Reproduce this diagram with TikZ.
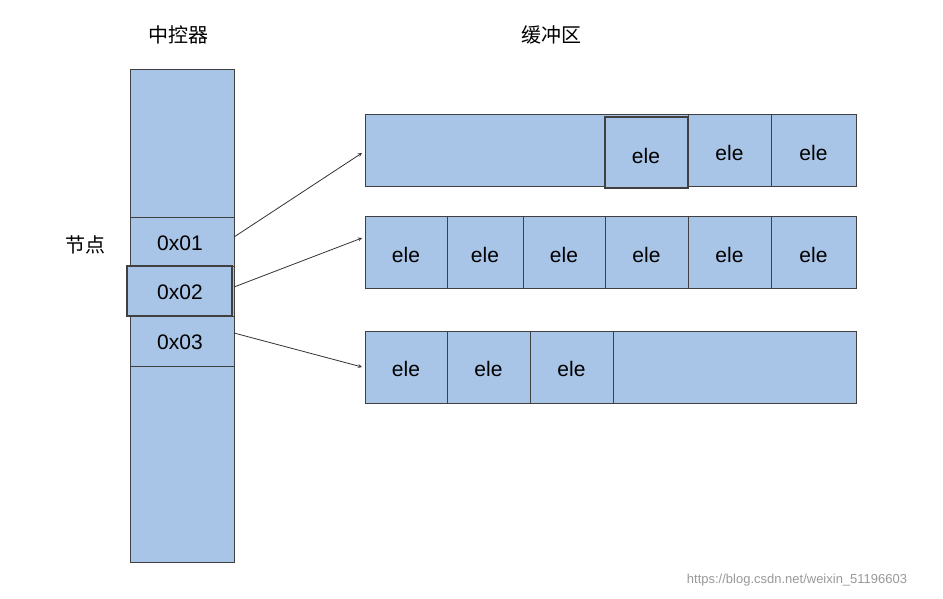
\documentclass[tikz,border=0pt]{standalone}
\usepackage{fontspec}
\setmainfont{Liberation Sans}
\newfontfamily\cjk{Noto Sans CJK SC}
\begin{document}
\begin{tikzpicture}[x=1pt,y=-1pt,
  cell/.style={draw=black!80,fill=blue!30!cyan!20!white,line width=1pt},
  lbl/.style={font=\fontsize{21}{21}\selectfont},
  arr/.style={->,>=stealth,line width=0.8pt,black!80}]
\definecolor{cellc}{HTML}{A8C4E6}
\tikzset{cell/.style={draw=black!75,fill=cellc,line width=1pt}}
\useasboundingbox (0,0) rectangle (943,599);
\fill[white] (0,0) rectangle (943,599);
% column
\draw[cell] (130,70) rectangle (234,562);
\draw[cell] (130,217) rectangle (234,266);
\draw[cell] (130,316) rectangle (234,366);
\draw[cell,line width=1.3pt] (127,266) rectangle (232,316);
\node[lbl] (n1) at (180,243) {0x01};
\node[lbl] (n2) at (180,292) {0x02};
\node[lbl] (n3) at (180,342) {0x03};
\coordinate (s1) at (234,237);
\coordinate (s2) at (234,287);
\coordinate (s3) at (234,333);
% row 1
\draw[cell] (365,115) rectangle (856,187);
\foreach \a/\b in {688/771,771/856}{\draw[cell] (\a,115) rectangle (\b,187); \node[lbl] at ({(\a+\b)/2},153) {ele};}
\draw[cell,line width=1.4pt] (605,117) rectangle (688,188);
\node[lbl] at (646,156) {ele};
% row 2
\draw[cell] (365,216) rectangle (856,288);
\foreach \a/\b in {365/447,447/523,523/605,605/688,688/771,771/856}{\draw[cell] (\a,216) rectangle (\b,288); \node[lbl] at ({(\a+\b)/2},255) {ele};}
% row 3
\draw[cell] (365,331) rectangle (856,403);
\foreach \a/\b in {365/447,447/530,530/613}{\draw[cell] (\a,331) rectangle (\b,403); \node[lbl] at ({(\a+\b)/2},369) {ele};}
\coordinate (t1) at (362,153);
\coordinate (t2) at (362,238);
\coordinate (t3) at (362,367);
\draw[arr] (s1) -- (t1);
\draw[arr] (s2) -- (t2);
\draw[arr] (s3) -- (t3);
% titles
\node[font=\cjk\fontsize{20}{20}\selectfont] (h1) at (178,35) {中控器};
\node[font=\cjk\fontsize{20}{20}\selectfont] (h2) at (551,35) {缓冲区};
\node[font=\cjk\fontsize{20}{20}\selectfont] (h3) at (85,245) {节点};
\node[font=\fontsize{13}{13}\selectfont,text=black!40] (w) at (797,580) {https://blog.csdn.net/weixin\_51196603};
\end{tikzpicture}
\end{document}
